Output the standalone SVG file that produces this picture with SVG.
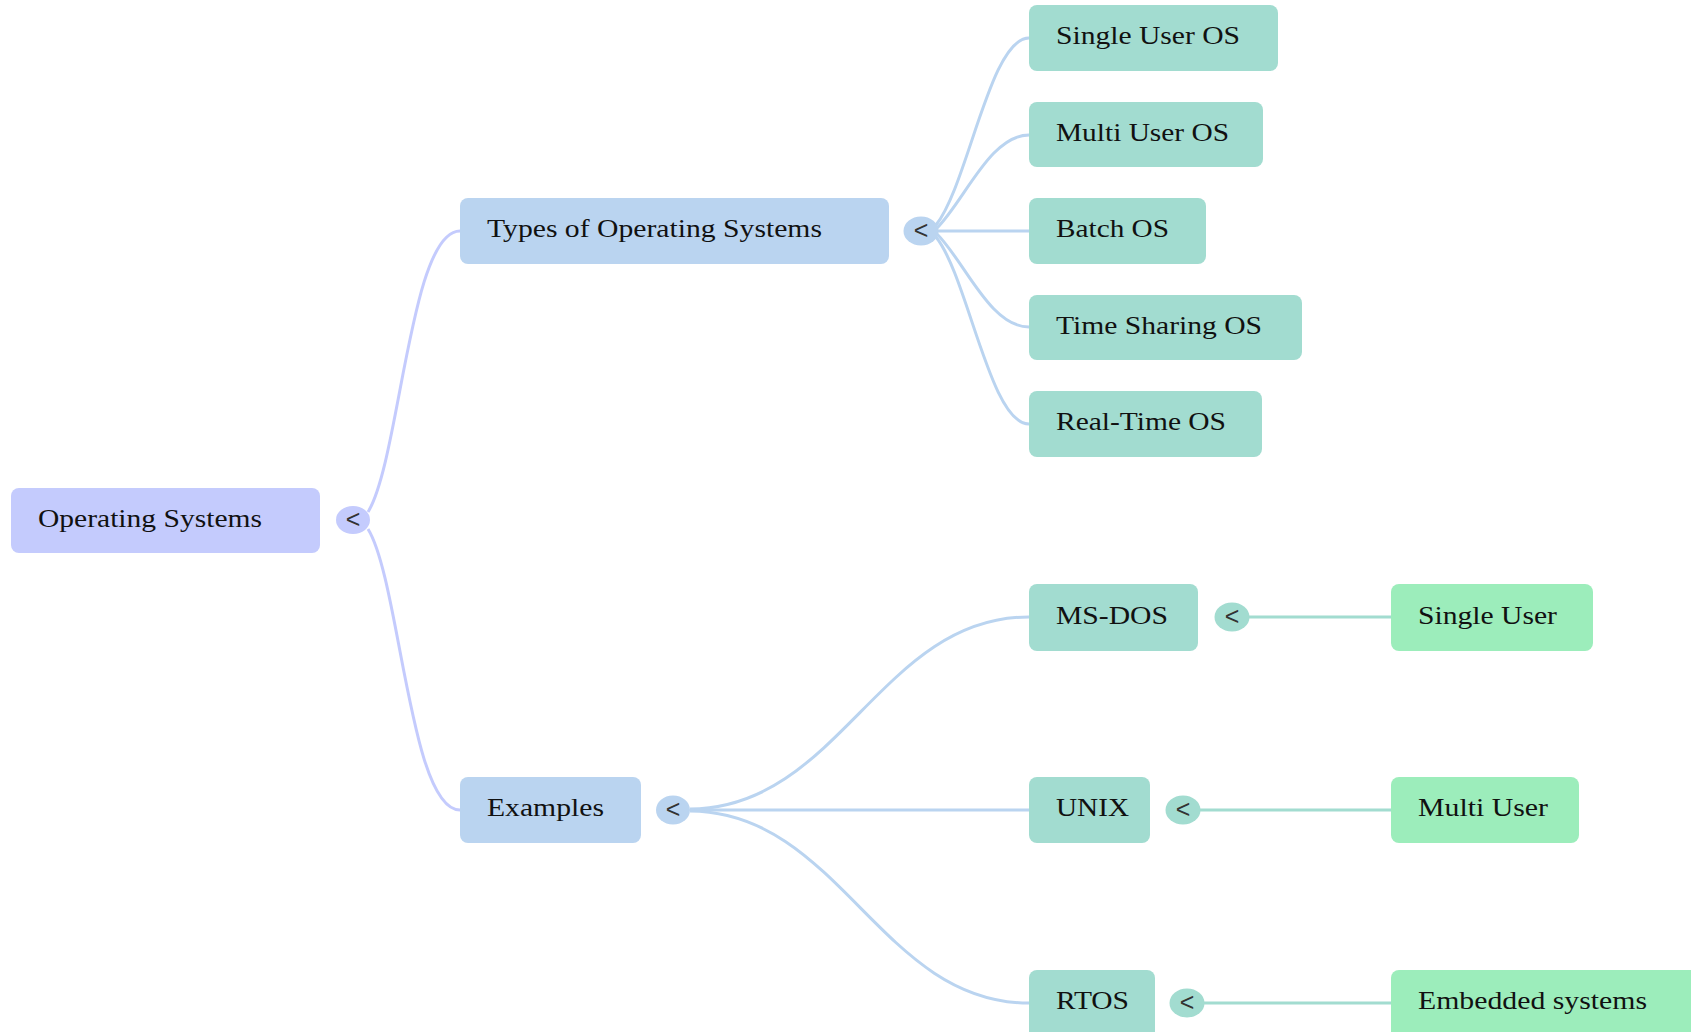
<svg xmlns="http://www.w3.org/2000/svg" width="1691" height="1032" viewBox="0 0 1691 1032">
<style>
  .lbl { font-family: "Liberation Serif", "Times New Roman", serif; font-size: 25px; fill: #111; }
  .tog { font-family: "Liberation Sans", Arial, sans-serif; font-size: 25px; fill: #333; text-anchor: middle; }
  .root { fill: #c4cbfd; }
  .l1 { fill: #bad4f0; }
  .l2 { fill: #a2dcd0; }
  .l3 { fill: #9cedbb; }
  .c-root { stroke: #c4cbfd; }
  .c-l1 { stroke: #bad4f0; }
  .c-l2 { stroke: #a2dcd0; }
  #connectors path { fill: none; stroke-width: 3; }
</style>
<rect width="1691" height="1032" fill="#ffffff"/>
<g id="connectors">
  <path class="c-root" d="M 368 512 C 400 460, 410 231, 460 231"/>
  <path class="c-root" d="M 368 529 C 400 581, 410 810, 460 810"/>
  <path class="c-l1" d="M 936 225 C 968 185, 990 38, 1029 38"/>
  <path class="c-l1" d="M 937 228 C 965 200, 990 135, 1029 135"/>
  <path class="c-l1" d="M 938 231 L 1029 231"/>
  <path class="c-l1" d="M 937 234 C 965 262, 990 327, 1029 327"/>
  <path class="c-l1" d="M 936 237 C 968 277, 990 424, 1029 424"/>
  <path class="c-l1" d="M 690 809 C 840 808, 880 617, 1029 617"/>
  <path class="c-l1" d="M 690 810 L 1029 810"/>
  <path class="c-l1" d="M 690 811 C 840 812, 880 1003, 1029 1003"/>
  <path class="c-l2" d="M 1249 617 L 1391 617"/>
  <path class="c-l2" d="M 1200 810 L 1391 810"/>
  <path class="c-l2" d="M 1204 1003 L 1391 1003"/>
</g>
<g id="node-root">
  <rect class="root" x="11" y="488" width="309" height="65" rx="8"/>
  <text class="lbl" x="38" y="527" textLength="224" lengthAdjust="spacingAndGlyphs">Operating Systems</text>
  <ellipse class="root" cx="353" cy="520" rx="17" ry="14"/>
  <text class="tog" x="353" y="528">&lt;</text>
</g>
<g id="node-types">
  <rect class="l1" x="460" y="198" width="429" height="66" rx="8"/>
  <text class="lbl" x="487" y="237" textLength="335" lengthAdjust="spacingAndGlyphs">Types of Operating Systems</text>
  <ellipse class="l1" cx="921" cy="231" rx="17.5" ry="14.5"/>
  <text class="tog" x="921" y="239">&lt;</text>
</g>
<g id="node-single-user-os">
  <rect class="l2" x="1029" y="5" width="249" height="66" rx="8"/>
  <text class="lbl" x="1056" y="44" textLength="184" lengthAdjust="spacingAndGlyphs">Single User OS</text>
</g>
<g id="node-multi-user-os">
  <rect class="l2" x="1029" y="102" width="234" height="65" rx="8"/>
  <text class="lbl" x="1056" y="141" textLength="173" lengthAdjust="spacingAndGlyphs">Multi User OS</text>
</g>
<g id="node-batch-os">
  <rect class="l2" x="1029" y="198" width="177" height="66" rx="8"/>
  <text class="lbl" x="1056" y="237" textLength="113" lengthAdjust="spacingAndGlyphs">Batch OS</text>
</g>
<g id="node-time-sharing-os">
  <rect class="l2" x="1029" y="295" width="273" height="65" rx="8"/>
  <text class="lbl" x="1056" y="334" textLength="206" lengthAdjust="spacingAndGlyphs">Time Sharing OS</text>
</g>
<g id="node-real-time-os">
  <rect class="l2" x="1029" y="391" width="233" height="66" rx="8"/>
  <text class="lbl" x="1056" y="430" textLength="170" lengthAdjust="spacingAndGlyphs">Real-Time OS</text>
</g>
<g id="node-examples">
  <rect class="l1" x="460" y="777" width="181" height="66" rx="8"/>
  <text class="lbl" x="487" y="816" textLength="117" lengthAdjust="spacingAndGlyphs">Examples</text>
  <ellipse class="l1" cx="673" cy="810" rx="17" ry="14.5"/>
  <text class="tog" x="673" y="818">&lt;</text>
</g>
<g id="node-ms-dos">
  <rect class="l2" x="1029" y="584" width="169" height="67" rx="8"/>
  <text class="lbl" x="1056" y="624" textLength="112" lengthAdjust="spacingAndGlyphs">MS-DOS</text>
  <ellipse class="l2" cx="1232" cy="617" rx="17.5" ry="14.5"/>
  <text class="tog" x="1232" y="625">&lt;</text>
</g>
<g id="node-unix">
  <rect class="l2" x="1029" y="777" width="121" height="66" rx="8"/>
  <text class="lbl" x="1056" y="816" textLength="73" lengthAdjust="spacingAndGlyphs">UNIX</text>
  <ellipse class="l2" cx="1183" cy="810" rx="17.5" ry="14.5"/>
  <text class="tog" x="1183" y="818">&lt;</text>
</g>
<g id="node-rtos">
  <rect class="l2" x="1029" y="970" width="126" height="72" rx="8"/>
  <text class="lbl" x="1056" y="1009" textLength="73" lengthAdjust="spacingAndGlyphs">RTOS</text>
  <ellipse class="l2" cx="1187" cy="1003" rx="17.5" ry="14.5"/>
  <text class="tog" x="1187" y="1011">&lt;</text>
</g>
<g id="node-single-user">
  <rect class="l3" x="1391" y="584" width="202" height="67" rx="8"/>
  <text class="lbl" x="1418" y="624" textLength="139" lengthAdjust="spacingAndGlyphs">Single User</text>
</g>
<g id="node-multi-user">
  <rect class="l3" x="1391" y="777" width="188" height="66" rx="8"/>
  <text class="lbl" x="1418" y="816" textLength="130" lengthAdjust="spacingAndGlyphs">Multi User</text>
</g>
<g id="node-embedded-systems">
  <rect class="l3" x="1391" y="970" width="320" height="72" rx="8"/>
  <text class="lbl" x="1418" y="1009" textLength="229" lengthAdjust="spacingAndGlyphs">Embedded systems</text>
</g>
</svg>
